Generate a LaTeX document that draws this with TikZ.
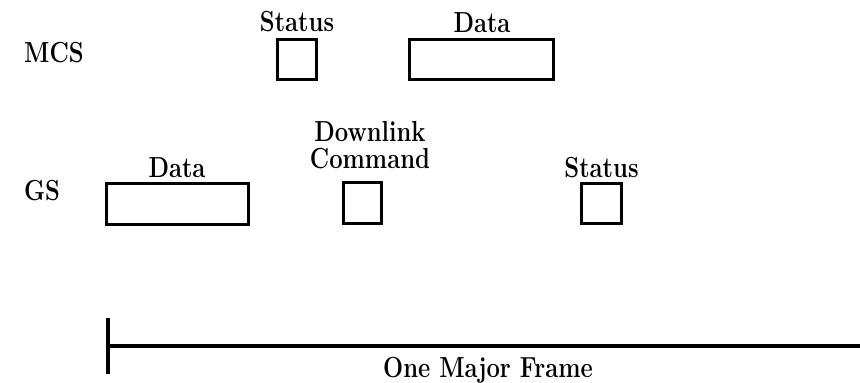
\documentclass[tikz,border=0pt]{standalone}
\usepackage{fontspec}
\usepackage{graphicx}
\setmainfont{Latin Modern Roman}
% tall, slightly condensed bold lettering
\newcommand\narrowtxt[1]{\scalebox{0.82}[1]{#1}}
\tikzset{
  lbl/.style={font=\fontsize{29}{25}\selectfont\bfseries, inner sep=0pt, anchor=base},
  rowlbl/.style={font=\fontsize{29}{25}\selectfont\bfseries, inner sep=0pt, anchor=base west},
  slot/.style={draw=black, line width=3pt, inner sep=0pt, rectangle},
  rule/.style={draw=black, line width=3.2pt},
}
\begin{document}
\begin{tikzpicture}[x=1pt,y=-1pt]
  \useasboundingbox (0,0) rectangle (860,383);

  % row captions
  \node[rowlbl] (mcs) at (24,62) {\narrowtxt{MCS}};
  \node[rowlbl] (gs) at (24,200) {\narrowtxt{GS}};

  % MCS transmissions
  \node[slot, minimum width=39pt, minimum height=40pt] (mstat) at (296.5,59.5) {};
  \node[slot, minimum width=144pt, minimum height=40pt] (mdata) at (481.5,59.5) {};
  \node[lbl] (mstatl) at (297,31) {\narrowtxt{Status}};
  \node[lbl] (mdatal) at (482,32) {\narrowtxt{Data}};

  % GS transmissions
  \node[slot, minimum width=142pt, minimum height=41pt] (gdata) at (177.5,204) {};
  \node[slot, minimum width=38pt, minimum height=41pt] (gcmd) at (362.5,203) {};
  \node[slot, minimum width=40pt, minimum height=40pt] (gstat) at (601.5,203.5) {};
  \node[lbl] (gdatal) at (177,177) {\narrowtxt{Data}};
  \node[lbl, anchor=north, align=center] (gcmdl) at (370,121)
    {\narrowtxt{Downlink}\\[2pt]\narrowtxt{Command}};
  \node[lbl] (gstatl) at (601.5,177) {\narrowtxt{Status}};

  % major frame span
  \coordinate (tktop) at (108,318);
  \coordinate (tkbot) at (108,374);
  \coordinate (fstart) at (108,346);
  \coordinate (fend) at (860,346);
  \draw[rule] (tktop) -- (tkbot);
  \draw[rule] (fstart) -- (fend);
  \node[lbl] (frame) at (488,377) {\narrowtxt{One Major Frame}};
\end{tikzpicture}
\end{document}
